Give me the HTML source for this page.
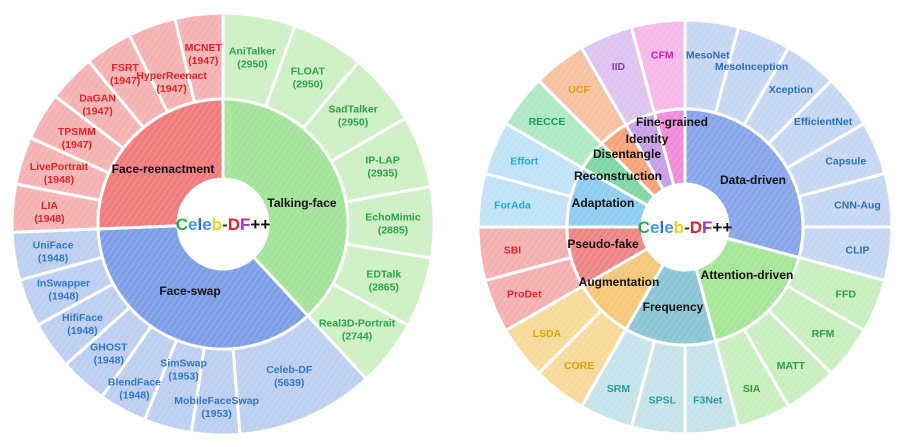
<!DOCTYPE html>
<html><head><meta charset="utf-8">
<style>
html,body{margin:0;padding:0;background:#fff;width:910px;height:447px;overflow:hidden}
svg{display:block}
text{font-family:"Liberation Sans",sans-serif;}
.ol{font-size:10.5px;font-weight:bold;text-anchor:middle}
.il{font-size:12px;font-weight:bold;text-anchor:middle;fill:#111}
.ct{font-size:17px;font-weight:bold;text-anchor:middle}
</style></head>
<body>
<svg id="chart" width="910" height="447" viewBox="0 0 910 447" xmlns="http://www.w3.org/2000/svg">
<defs>
<pattern id="hatch" patternUnits="userSpaceOnUse" width="5" height="5" patternTransform="rotate(35)">
<line x1="0" y1="0" x2="0" y2="5" stroke="#fff" stroke-width="1.2" stroke-opacity="0.3"/>
</pattern>
</defs>
<g id="left"></g>
<g id="right"></g>
</svg>
<script>
// ---- Left chart data ----
const leftGroups = ['Talking-face','Face-swap','Face-reenactment'];
const leftItems = ['AniTalker','FLOAT','SadTalker','IP-LAP','EchoMimic','EDTalk','Real3D-Portrait',
 'Celeb-DF','MobileFaceSwap','SimSwap','BlendFace','GHOST','HifiFace','InSwapper','UniFace',
 'LIA','LivePortrait','TPSMM','DaGAN','FSRT','HyperReenact','MCNET'];
const leftValues = [2950,2950,2950,2935,2885,2865,2744,
 5639,1953,1953,1948,1948,1948,1948,1948,
 1948,1948,1947,1947,1947,1947,1947];
const leftGroupIdx = [0,0,0,0,0,0,0, 1,1,1,1,1,1,1,1, 2,2,2,2,2,2,2];

// ---- Right chart data ----
const rightGroups = ['Data-driven','Attention-driven','Frequency','Augmentation','Pseudo-fake','Adaptation','Reconstruction','Disentangle','Identity','Fine-grained'];
const rightItems = ['MesoNet','MesoInception','Xception','EfficientNet','Capsule','CNN-Aug','CLIP',
 'FFD','RFM','MATT','SIA','F3Net','SPSL','SRM','CORE','LSDA','ProDet','SBI','ForAda','Effort','RECCE','UCF','IID','CFM'];
const rightValues = [1,1,1,1,1,1,1, 1,1,1,1, 1,1,1, 1,1, 1,1, 1,1, 1, 1, 1, 1];
const rightGroupIdx = [0,0,0,0,0,0,0, 1,1,1,1, 2,2,2, 3,3, 4,4, 5,5, 6, 7, 8, 9];

// ---- styles / label layout (not data) ----
const leftInner = ['#a3e39a','#7d9fe6','#f07c7c'];
const leftOuter = ['#cdf0c4','#bccff1','#f5b3b3'];
const leftText  = ['#2aa445','#2f78c4','#e62128'];
const leftLabRadius = [170,170,170,170,170,170,170, 165,182,150,186,172,172,172,172, 174,172,170,174,180,152,172];
const rightInner = ['#88a6ea','#a6e699','#8cc6d5','#f5c77a','#ef8686','#8ecdf0','#7fd7a3','#f5a47a','#c79ee8','#f08ad9'];
const rightOuter = ['#c6d7f4','#c9efc0','#c6e3ea','#f7d99a','#f5b1b1','#c0e2f7','#aee8c4','#f7c2a2','#dcc3f0','#f5b8e8'];
const rightText  = ['#2a6fc0','#2aa040','#2a9aa5','#dca400','#e8222a','#22a5e0','#1f9a5a','#d9a000','#8a3ab9','#d020b0'];
const rightInnerPos = [[753,180],[747,275],[673,307],[619,282],[603,244],[603,203],[618,176],[627,154],[647,139],[672,122]];
const leftInnerPos = [[302,203],[190,291],[163,169]];

const NS='http://www.w3.org/2000/svg';
function pt(cx,cy,r,a){const t=a*Math.PI/180;return [cx+r*Math.sin(t),cy-r*Math.cos(t)];}
function arc(cx,cy,r0,r1,a0,a1){
  const p1=pt(cx,cy,r1,a0),p2=pt(cx,cy,r1,a1),p3=pt(cx,cy,r0,a1),p4=pt(cx,cy,r0,a0);
  const lg=(a1-a0)>180?1:0;
  return `M${p1[0]},${p1[1]}A${r1},${r1} 0 ${lg} 1 ${p2[0]},${p2[1]}L${p3[0]},${p3[1]}A${r0},${r0} 0 ${lg} 0 ${p4[0]},${p4[1]}Z`;
}
function mk(tag,attrs,parent){const e=document.createElementNS(NS,tag);for(const k in attrs)e.setAttribute(k,attrs[k]);parent.appendChild(e);return e;}
function slug(s){return s.toLowerCase().replace(/[^a-z0-9]+/g,'-').replace(/^-|-$/g,'');}

function drawChart(g,cfg){
  const {cx,cy,r0,r1,r2,items,values,gidx,groups,inner,outer,tcol,innerPos,showVal,labR}=cfg;
  const total=values.reduce((a,b)=>a+b,0);
  const gStart=[],gEnd=[],mids=[];
  const shapes=mk('g',{},g);
  const labels=mk('g',{},g);
  let a=0;
  items.forEach((it,i)=>{
    const span=values[i]/total*360;
    const a0=a,a1=a+span;a+=span;
    mids.push((a0+a1)/2);
    const gi=gidx[i];
    if(gStart[gi]===undefined)gStart[gi]=a0;
    gEnd[gi]=a1;
    const p=mk('path',{d:arc(cx,cy,r1,r2,a0,a1),fill:outer[gi],stroke:'#fff','stroke-width':3},shapes);
    
    
    mk('path',{d:arc(cx,cy,r1,r2,a0,a1),fill:'url(#hatch)'},shapes);
  });
  groups.forEach((gn,gi)=>{
    const p=mk('path',{d:arc(cx,cy,r0,r1,gStart[gi],gEnd[gi]),fill:inner[gi],stroke:'#fff','stroke-width':3},shapes);
    
    
    mk('path',{d:arc(cx,cy,r0,r1,gStart[gi],gEnd[gi]),fill:'url(#hatch)'},shapes);
  });
  items.forEach((it,i)=>{
    const gi=gidx[i];
    const rr=Array.isArray(labR)?labR[i]:labR;
    const m=pt(cx,cy,rr,mids[i]);
    const t=mk('text',{class:'ol',x:m[0],y:showVal?m[1]-2:m[1]+4,fill:tcol[gi]},labels);
    
    
    t.textContent=it;
    if(showVal){
      const v=mk('text',{class:'ol',x:m[0],y:m[1]+11,fill:tcol[gi]},labels);
      
      
      v.textContent='('+values[i]+')';
    }
  });
  groups.forEach((gn,gi)=>{
    const t=mk('text',{class:'il',x:innerPos[gi][0],y:innerPos[gi][1]+4},labels);
    
    
    t.textContent=gn;
  });
  const c=mk('text',{class:'ct',x:cx,y:cy+6},labels);
  
  
  const parts=[['C','#27b04a'],['e','#3aa0e0'],['l','#2f6fd0'],['e','#4a90e8'],['b','#f2d21a'],['-','#333'],['D','#e62128'],['F','#a030d0'],['++','#111']];
  parts.forEach(([s,col])=>{const ts=mk('tspan',{fill:col},c);ts.textContent=s;});
}

drawChart(document.getElementById('left'),{cx:223,cy:224,r0:45,r1:125,r2:211,items:leftItems,values:leftValues,gidx:leftGroupIdx,groups:leftGroups,inner:leftInner,outer:leftOuter,tcol:leftText,innerPos:leftInnerPos,showVal:true,labR:leftLabRadius});
drawChart(document.getElementById('right'),{cx:685,cy:227,r0:43,r1:118,r2:207,items:rightItems,values:rightValues,gidx:rightGroupIdx,groups:rightGroups,inner:rightInner,outer:rightOuter,tcol:rightText,innerPos:rightInnerPos,showVal:false,labR:174});
</script>
</body></html>
